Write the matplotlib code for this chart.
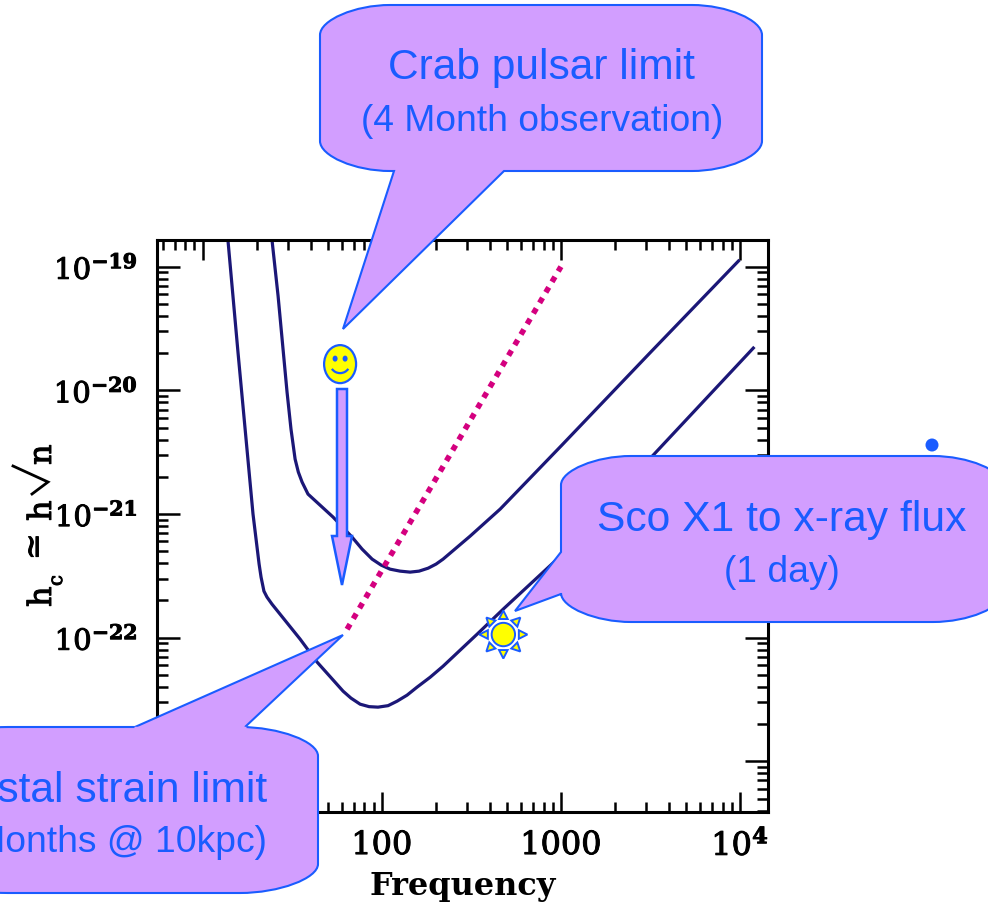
import numpy as np
import matplotlib
matplotlib.use("Agg")
import matplotlib.pyplot as plt
import matplotlib.patheffects as pe
from matplotlib.path import Path
from matplotlib.patches import PathPatch, Ellipse, Polygon, Arc, Circle
from matplotlib.ticker import LogLocator, NullFormatter

plt.rcParams['mathtext.fontset'] = 'dejavuserif'
plt.rcParams['font.family'] = ['DejaVu Serif']

# values, as log10
upper_log_freq = [1.387, 1.421, 1.471, 1.493, 1.516, 1.534, 1.555, 1.588, 1.728, 1.834, 1.890, 1.946, 1.996,
                  2.046, 2.102, 2.158, 2.208, 2.259, 2.303, 2.342, 2.493, 2.661, 3.0, 3.499, 3.991]
upper_log_h = [-18.784, -19.237, -20.014, -20.313, -20.556, -20.661, -20.742, -20.839, -21.025, -21.187, -21.284,
               -21.365, -21.413, -21.446, -21.462, -21.470, -21.462, -21.438, -21.405, -21.365, -21.179, -20.960,
               -20.451, -19.694, -18.954]
lower_log_freq = [1.141, 1.197, 1.281, 1.315, 1.326, 1.342, 1.359, 1.387, 1.544, 1.639, 1.784, 1.828, 1.879, 1.929,
                  1.979, 2.035, 2.085, 2.141, 2.197, 2.270, 2.342, 2.532, 2.678, 2.979, 3.510, 4.074]
lower_log_h = [-18.784, -19.690, -21.001, -21.405, -21.511, -21.624, -21.672, -21.729, -22.012, -22.198, -22.433,
               -22.489, -22.538, -22.558, -22.562, -22.550, -22.514, -22.465, -22.400, -22.320, -22.231, -21.972,
               -21.769, -21.365, -20.532, -19.658]
strain_freq = [64.0, 1000.0]
strain_h = [1.17e-22, 1.0e-19]

crab_freq, crab_h = 58.5, 1.63e-20
sco_freq, sco_h = 477.0, 1.06e-22

x_ticks = [10, 100, 1000, 10000]
x_labels = ['10', '100', '1000', r'$\mathdefault{10^{\mathbf{4}}}$']
y_ticks = [1e-19, 1e-20, 1e-21, 1e-22, 1e-23]
y_labels = [r'$\mathdefault{10^{\mathbf{-19}}}$', r'$\mathdefault{10^{\mathbf{-20}}}$',
            r'$\mathdefault{10^{\mathbf{-21}}}$', r'$\mathdefault{10^{\mathbf{-22}}}$',
            r'$\mathdefault{10^{\mathbf{-23}}}$']

FILL = '#D29EFF'
BLUE = '#1A5CFF'
NAVY = '#1B1777'
MAGENTA = '#D4007F'
W, H = 988, 903
heavy = [pe.withStroke(linewidth=0.7, foreground='black')]


def bubble(left, right, top, bottom, rx, ry, side, pointer):
    # rounded box with a pointer, in picture pixels, pointer listed in drawing order
    k = 0.5
    verts = [(left + rx, top)]
    codes = [Path.MOVETO]

    def line(p):
        verts.append(p)
        codes.append(Path.LINETO)

    def curve(a, b, c):
        verts.extend([a, b, c])
        codes.extend([Path.CURVE4] * 3)

    line((right - rx, top))
    curve((right - rx + k * rx, top), (right, top + ry - k * ry), (right, top + ry))
    line((right, bottom - ry))
    curve((right, bottom - ry + k * ry), (right - rx + k * rx, bottom), (right - rx, bottom))
    if side == 'bottom':
        for p in pointer:
            line(p)
    line((left + rx, bottom))
    curve((left + rx - k * rx, bottom), (left, bottom - ry + k * ry), (left, bottom - ry))
    if side == 'left':
        for p in pointer:
            line(p)
    line((left, top + ry))
    curve((left, top + ry - k * ry), (left + rx - k * rx, top), (left + rx, top))
    verts.append((left + rx, top))
    codes.append(Path.CLOSEPOLY)
    return PathPatch(Path(verts, codes), fc=FILL, ec=BLUE, lw=1.5, joinstyle='miter')


fig = plt.figure(figsize=(W / 100, H / 100), dpi=100)
ax = fig.add_axes([157 / W, (H - 813) / H, 611 / W, 572 / H])
ax.set_xscale('log')
ax.set_yscale('log')
ax.set_xlim(10 ** 0.745, 10 ** 4.156)
ax.set_ylim(10 ** -23.41, 10 ** -18.784)

ax.plot(10 ** np.array(upper_log_freq), 10 ** np.array(upper_log_h), color=NAVY, lw=2.3)
ax.plot(10 ** np.array(lower_log_freq), 10 ** np.array(lower_log_h), color=NAVY, lw=2.3)
ax.plot(strain_freq, strain_h, color=MAGENTA, lw=4.0, dashes=(1.05, 1.15), dash_capstyle='butt')

ax.set_xticks(x_ticks)
ax.set_xticklabels(x_labels)
ax.set_yticks(y_ticks)
ax.set_yticklabels(y_labels)
ax.xaxis.set_minor_locator(LogLocator(base=10, subs=np.arange(2, 10), numticks=20))
ax.yaxis.set_minor_locator(LogLocator(base=10, subs=np.arange(2, 10), numticks=20))
ax.xaxis.set_minor_formatter(NullFormatter())
ax.yaxis.set_minor_formatter(NullFormatter())
ax.tick_params(axis='x', which='major', direction='in', top=True, length=14.5, width=1.8, labelsize=23, pad=13)
ax.tick_params(axis='x', which='minor', direction='in', top=True, length=7.2, width=1.8)
ax.tick_params(axis='y', which='major', direction='in', right=True, length=16.5, width=1.8, labelsize=21, pad=14)
ax.tick_params(axis='y', which='minor', direction='in', right=True, length=8, width=1.8)
for lab in ax.get_xticklabels() + ax.get_yticklabels():
    lab.set_path_effects(heavy)
for s in ax.spines.values():
    s.set_linewidth(2.2)
ax.set_xlabel('Frequency', fontsize=23, fontweight='bold', labelpad=6)

# overlay in picture pixels for the slide shapes
over = fig.add_axes([0, 0, 1, 1], facecolor='none')
over.set_xlim(0, W)
over.set_ylim(H, 0)
over.axis('off')


def to_px(freq, h):
    x, y = ax.transData.transform((freq, h))
    return x, H - y


# y label built from pieces, the root sign has no bar in the reference
for x, y, s, size in [(51, 608, 'h', 23), (62, 587, 'c', 14), (44, 561, '≃', 23), (51, 522, 'h', 23), (51, 466, 'n', 23)]:
    over.text(x, y, s, rotation=90, rotation_mode='anchor', ha='left', va='baseline', fontsize=size,
              path_effects=heavy)
over.plot([13, 48, 32], [467, 483, 495], color='black', lw=2.0, solid_joinstyle='miter')

over.add_patch(bubble(320, 762, 6, 172, 70, 30, 'bottom', [(504, 172), (343, 330), (394, 172)]))
over.add_patch(bubble(561, 1003, 457, 623, 70, 29, 'left', [(561, 595), (515, 612), (561, 553)]))
over.add_patch(bubble(-70, 318, 728, 894, 78, 29, 'none', []))
# pointer of the lower left box
over.add_patch(Polygon([(135, 728), (343, 636), (245, 728)], closed=False, fc=FILL, ec=BLUE, lw=1.5))
over.plot([134, 246], [729, 729], color=FILL, lw=2.5, solid_capstyle='butt')

sans = 'Liberation Sans'
over.text(541.7, 79, 'Crab pulsar limit', color=BLUE, family=sans, fontsize=30.6, ha='center', va='baseline')
over.text(541.7, 131, '(4 Month observation)', color=BLUE, family=sans, fontsize=26.8, ha='center', va='baseline')
over.text(781.7, 531, 'Sco X1 to x-ray flux', color=BLUE, family=sans, fontsize=30.7, ha='center', va='baseline')
over.text(782, 582, '(1 day)', color=BLUE, family=sans, fontsize=26.8, ha='center', va='baseline')
over.text(267, 802, 'Crystal strain limit', color=BLUE, family=sans, fontsize=30.7, ha='right', va='baseline')
over.text(267, 852, '(4 Months @ 10kpc)', color=BLUE, family=sans, fontsize=26.8, ha='right', va='baseline')

# smiley for the Crab
cx, cy = to_px(crab_freq, crab_h)
over.add_patch(Ellipse((cx, cy), 32, 38, fc='#FFFF00', ec=BLUE, lw=1.6))
for dx in (-5, 5):
    over.add_patch(Ellipse((cx + dx, cy - 5.5), 5, 6, fc=BLUE, ec='none'))
over.add_patch(Arc((cx, cy - 1), 20, 20, theta1=35, theta2=145, ec=BLUE, lw=1.6))

# down arrow under the smiley
over.add_patch(Polygon([(337, 390), (347, 390), (347, 537), (352, 537), (342, 586), (332, 537), (337, 537)],
                       closed=True, fc=FILL, ec=BLUE, lw=1.8, joinstyle='miter'))

# sun for Sco X1
sx, sy = to_px(sco_freq, sco_h)
for ang in np.deg2rad(np.arange(0, 360, 45)):
    ux, uy = np.cos(ang), np.sin(ang)
    tip = (sx + 24 * ux, sy + 24 * uy)
    b1 = (sx + 15.5 * ux - 4.3 * uy, sy + 15.5 * uy + 4.3 * ux)
    b2 = (sx + 15.5 * ux + 4.3 * uy, sy + 15.5 * uy - 4.3 * ux)
    over.add_patch(Polygon([tip, b1, b2], closed=True, fc='#FFFF00', ec=BLUE, lw=1.4))
over.add_patch(Circle((sx, sy), 11.7, fc='#FFFF00', ec=BLUE, lw=1.4))

over.add_patch(Circle((932, 446), 6.5, fc=BLUE, ec='none'))

fig.savefig('out.png', dpi=100)
